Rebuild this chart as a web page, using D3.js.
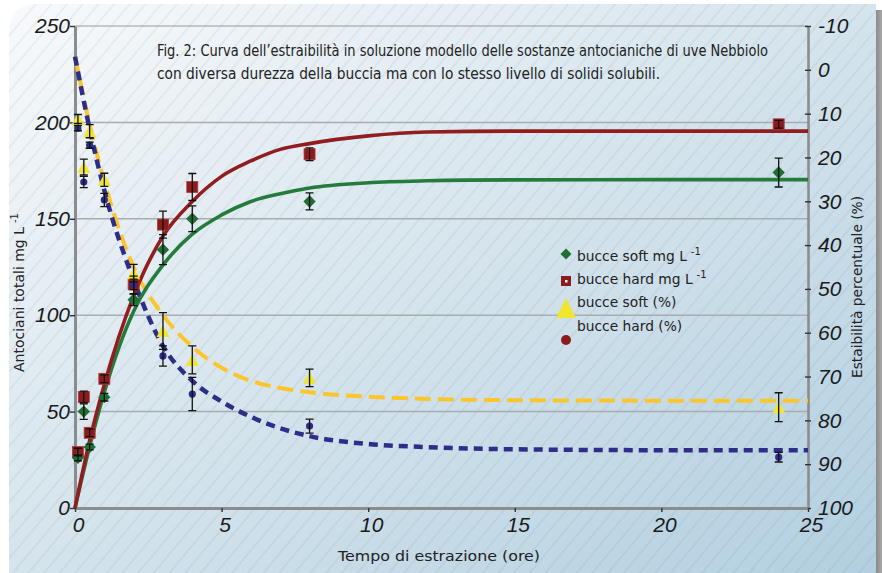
<!DOCTYPE html>
<html><head><meta charset="utf-8">
<script src="https://cdn.jsdelivr.net/npm/d3@7"></script>
<style>html,body{margin:0;padding:0;background:#fff;} svg{display:block}</style>
</head><body>
<svg id="c" width="882" height="573"></svg>
<script>
// ---- data ----
const times = [0.1, 0.3, 0.5, 1, 2, 3, 4, 8, 24];
const softMg = [26, 50, 31.6, 57.5, 108, 134, 150, 159, 174];
const softMgErr = [1.5, 4, 1.5, 2, 3, 7.8, 6.7, 4.4, 7.5];
const hardMg = [29, 57.6, 39, 67, 116, 147, 166.5, 183.5, 199];
const hardMgErr = [2, 3, 2, 2, 2.7, 7, 7, 3.3, 2];
const softPct = [11.2, 22.2, 14, 25.1, 46.4, 59.6, 66.2, 70.3, 77];
const softPctErr = [1, 1.8, 1.5, 1.5, 2, 4.2, 3.2, 2, 3.3];
const hardPct = [13.3, 25.6, 17.2, 29.7, 49.1, 65.3, 74, 81.3, 88.4];
const hardPctErr = [0.6, 1.3, 0.7, 1.5, 2, 2.3, 3.8, 1.6, 1.1];

const fitTimes = [0, 0.5, 1, 2, 3, 4, 5, 6, 7, 8, 10, 12, 15, 20, 25];
const hardMgFit = [0, 35, 64, 110, 141, 159, 172, 180, 186, 189, 193, 195, 195.5, 195.5, 195.5];
const softMgFit = [0, 32, 60, 102, 126, 142, 152, 159, 163, 166, 168.7, 169.7, 170.2, 170.3, 170.3];
const hardPctFit = [-3, 13.5, 27.5, 48, 63, 71, 75.7, 79.2, 81.8, 83.6, 85.4, 86.1, 86.6, 86.8, 86.8];
const softPctFit = [-3, 12.5, 25.5, 45, 56, 63.2, 68, 71, 72.6, 73.6, 74.6, 75.1, 75.4, 75.5, 75.5];

const xTicks = [0, 5, 10, 15, 20, 25];
const yLeftTicks = [0, 50, 100, 150, 200, 250];
const yRightTicks = [-10, 0, 10, 20, 30, 40, 50, 60, 70, 80, 90, 100];
const legendLabels = ["bucce soft mg L", "bucce hard mg L", "bucce soft (%)", "bucce hard (%)"];
const titleLines = ["Fig. 2: Curva dell’estraibilità in soluzione modello delle sostanze antocianiche di uve Nebbiolo",
  "con diversa durezza della buccia ma con lo stesso livello di solidi solubili."];

// ---- setup ----
const svg = d3.select("#c");
const x = d3.scaleLinear([0, 25], [75, 808]);
const yL = d3.scaleLinear([0, 250], [508, 26]);
const yR = d3.scaleLinear([-10, 100], [26, 508]);

const defs = svg.append("defs");
const bg = defs.append("linearGradient").attr("id", "bg").attr("x1", 0).attr("y1", 0).attr("x2", 1).attr("y2", 1);
bg.append("stop").attr("offset", 0).attr("stop-color", "#f8fafc");
bg.append("stop").attr("offset", 0.45).attr("stop-color", "#d8e6ee");
bg.append("stop").attr("offset", 1).attr("stop-color", "#b2cfe0");
const pat = defs.append("pattern").attr("id", "hatch").attr("width", 12).attr("height", 12)
  .attr("patternUnits", "userSpaceOnUse").attr("patternTransform", "rotate(40)");
pat.append("line").attr("x1", 6).attr("y1", 0).attr("x2", 6).attr("y2", 12)
  .attr("stroke", "rgba(95,105,115,0.22)").attr("stroke-width", 0.7);
const sh = defs.append("linearGradient").attr("id", "sh").attr("x1", 0).attr("x2", 1);
sh.append("stop").attr("offset", 0).attr("stop-color", "#8a8a8a");
sh.append("stop").attr("offset", 1).attr("stop-color", "#a8a8a8");

const panel = "M9,32 Q9,4 37,4 L876,4 L876,573 L9,573 Z";
svg.append("rect").attr("x", 876).attr("y", 10).attr("width", 6).attr("height", 563).attr("fill", "url(#sh)");
svg.append("path").attr("d", panel).attr("fill", "url(#bg)");
svg.append("path").attr("d", panel).attr("fill", "url(#hatch)");

// ---- grid ----
svg.append("g").selectAll("line").data(yLeftTicks.filter(d => d > 0)).join("line")
  .attr("x1", x(0)).attr("x2", x(25)).attr("y1", d => yL(d)).attr("y2", d => yL(d))
  .attr("stroke", d => d === 250 ? "#999" : "#a8adb0").attr("stroke-width", d => d === 250 ? 1.2 : 1.5);

// ---- axes ----
const tickFont = "'Liberation Sans', Arial, sans-serif";
function styleAxis(g) {
  g.select(".domain").attr("stroke", "#8a8c8e").attr("stroke-width", 3);
  g.selectAll(".tick line").attr("stroke", "#333").attr("stroke-width", 1.4);
  g.selectAll(".tick text").attr("font-family", tickFont).attr("font-style", "italic")
    .attr("font-size", 21).attr("fill", "#1a1a1a");
}
const gL = svg.append("g").attr("transform", `translate(${x(0)},0)`)
  .call(d3.axisLeft(yL).tickValues(yLeftTicks).tickSize(5).tickPadding(0).tickSizeOuter(0).tickFormat(d => String(d)));
styleAxis(gL);
const gR = svg.append("g").attr("transform", `translate(${x(25)},0)`)
  .call(d3.axisRight(yR).tickValues(yRightTicks).tickSize(3).tickPadding(7).tickSizeOuter(0).tickFormat(d => String(d)));
styleAxis(gR);
gR.select(".domain").attr("stroke-width", 2.6);
gR.selectAll(".tick line").attr("x1", -3);
const gB = svg.append("g").attr("transform", `translate(0,${yL(0)})`)
  .call(d3.axisBottom(x).tickValues(xTicks).tickSize(4).tickPadding(5).tickSizeOuter(0).tickFormat(d => String(d)));
styleAxis(gB);
gB.selectAll(".tick text").attr("dx", 3);

// ---- fitted curves ----
const lineL = d3.line().x((d, i) => x(fitTimes[i])).y(d => yL(d)).curve(d3.curveMonotoneX);
const lineR = d3.line().x((d, i) => x(fitTimes[i])).y(d => yR(d)).curve(d3.curveMonotoneX);
svg.append("path").attr("d", lineR(softPctFit)).attr("fill", "none").attr("stroke", "#fbc52b")
  .attr("stroke-width", 4).attr("stroke-dasharray", "16,7");
svg.append("path").attr("d", lineR(hardPctFit)).attr("fill", "none").attr("stroke", "#2e2d88")
  .attr("stroke-width", 4.5).attr("stroke-dasharray", "9,6");
svg.append("path").attr("d", lineL(softMgFit)).attr("fill", "none").attr("stroke", "#247b3c").attr("stroke-width", 3.6);
svg.append("path").attr("d", lineL(hardMgFit)).attr("fill", "none").attr("stroke", "#901d1f").attr("stroke-width", 3.6);

// ---- markers ----
const tri = (cx, cy, w, h) => `M${cx},${cy - h / 2} L${cx + w / 2},${cy + h / 2} L${cx - w / 2},${cy + h / 2} Z`;
const dia = (cx, cy, r) => `M${cx},${cy - r} L${cx + r},${cy} L${cx},${cy + r} L${cx - r},${cy} Z`;
const gM = svg.append("g");
gM.selectAll(".sq").data(hardMg).join("rect")
  .attr("x", (d, i) => x(times[i]) - 5.5).attr("y", d => yL(d) - 5.5).attr("width", 11).attr("height", 11)
  .attr("fill", "#8c1c1c").attr("stroke", "#a83a3a").attr("stroke-width", 0.8);
gM.selectAll(".di").data(softMg).join("path")
  .attr("d", (d, i) => dia(x(times[i]), yL(d), 6.2)).attr("fill", "#1f6e33");
gM.selectAll(".tr").data(softPct).join("path")
  .attr("d", (d, i) => tri(x(times[i]), yR(d), 13, 12)).attr("fill", "#f0e52f");
gM.selectAll(".ci").data(hardPct).join("circle")
  .attr("cx", (d, i) => x(times[i])).attr("cy", d => yR(d)).attr("r", 3.6).attr("fill", "#2e2c85");

// ---- error bars ----
const gE = svg.append("g").attr("stroke", "#111").attr("stroke-width", 1.3).attr("fill", "none");
function errBars(vals, errs, sc) {
  vals.forEach((v, i) => {
    const cx = x(times[i]), t = sc(v + errs[i]), b = sc(v - errs[i]);
    gE.append("path").attr("d", `M${cx},${t} L${cx},${b} M${cx - 4},${t} L${cx + 4},${t} M${cx - 4},${b} L${cx + 4},${b}`);
  });
}
errBars(hardMg, hardMgErr, yL);
errBars(softMg, softMgErr, yL);
errBars(softPct, softPctErr, yR);
errBars(hardPct, hardPctErr, yR);

// ---- titles ----
const txtFont = "'DejaVu Sans', Verdana, sans-serif";
svg.append("text").attr("x", 439).attr("y", 561).attr("text-anchor", "middle")
  .attr("font-family", txtFont).attr("font-size", 13.5).attr("fill", "#222")
  .attr("textLength", 202).attr("lengthAdjust", "spacingAndGlyphs").text("Tempo di estrazione (ore)");
const tl = svg.append("text").attr("transform", "translate(24,372) rotate(-90)")
  .attr("font-family", txtFont).attr("font-size", 14).attr("fill", "#222");
tl.append("tspan").text("Antociani totali mg L");
tl.append("tspan").attr("dx", 4).attr("dy", -6).attr("font-size", 10).text("-1");
svg.append("text").attr("transform", "translate(862,378) rotate(-90)")
  .attr("font-family", txtFont).attr("font-size", 14).attr("fill", "#222")
  .attr("textLength", 182).attr("lengthAdjust", "spacingAndGlyphs").text("Estaibilità percentuale (%)");

const titleFont = "'Liberation Sans Narrow', 'DejaVu Sans Condensed', 'Noto Sans', sans-serif";
svg.append("text").attr("x", 157).attr("y", 56).attr("font-family", titleFont).attr("font-size", 16.5)
  .attr("fill", "#222").attr("textLength", 611).attr("lengthAdjust", "spacingAndGlyphs").text(titleLines[0]);
svg.append("text").attr("x", 157).attr("y", 79).attr("font-family", titleFont).attr("font-size", 16.5)
  .attr("fill", "#222").attr("textLength", 503).attr("lengthAdjust", "spacingAndGlyphs").text(titleLines[1]);

// ---- legend ----
const lg = svg.append("g");
const lgY = [261, 284, 307, 331];
lg.append("path").attr("d", dia(566, 254, 5.5)).attr("fill", "#1f6e33");
lg.append("rect").attr("x", 561).attr("y", 276).attr("width", 10).attr("height", 10).attr("fill", "#8c1c1c");
lg.append("rect").attr("x", 565).attr("y", 280).attr("width", 2.5).attr("height", 2.5).attr("fill", "#fff");
lg.append("path").attr("d", tri(566, 308, 20, 20)).attr("fill", "#f0e52f");
lg.append("circle").attr("cx", 566).attr("cy", 340).attr("r", 5).attr("fill", "#8c1c1c");
legendLabels.forEach((s, i) => {
  const t = lg.append("text").attr("x", 577).attr("y", lgY[i]).attr("font-family", txtFont)
    .attr("font-size", 13.8).attr("fill", "#222");
  t.append("tspan").text(s);
  if (i < 2) t.append("tspan").attr("dx", 4).attr("dy", -6).attr("font-size", 10).text("-1");
});
</script>
</body></html>
